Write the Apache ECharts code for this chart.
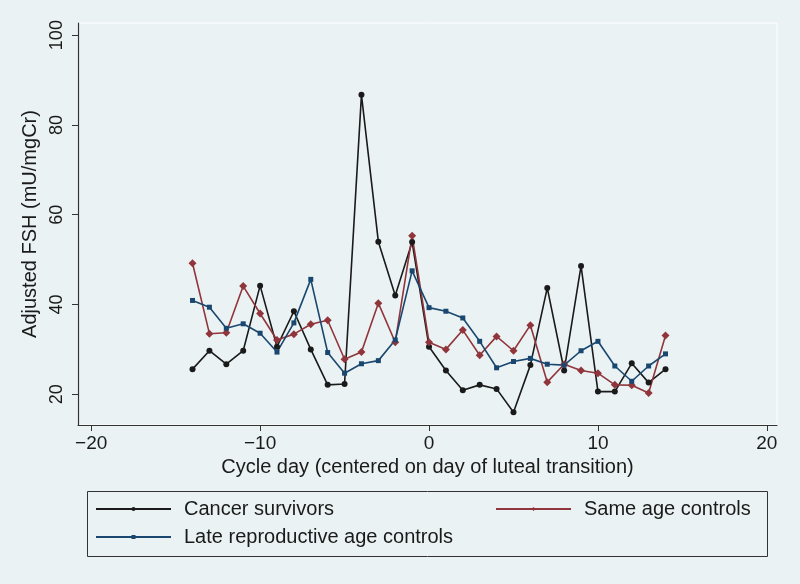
<!DOCTYPE html>
<html>
<head>
<meta charset="utf-8">
<script src="https://cdn.jsdelivr.net/npm/echarts@6/dist/echarts.min.js"></script>
<style>
html,body{margin:0;padding:0;background:#eaf2f3;}
#c{width:800px;height:584px;}
</style>
</head>
<body>
<div id="c"></div>
<script>
const days = [-14,-13,-12,-11,-10,-9,-8,-7,-6,-5,-4,-3,-2,-1,0,1,2,3,4,5,6,7,8,9,10,11,12,13,14];
const cancerSurvivors = [25.6,29.7,26.7,29.7,44.2,30.6,38.5,30.0,22.1,22.3,86.7,54.0,42.0,53.9,30.6,25.3,20.9,22.1,21.2,16.0,26.5,43.7,25.3,48.6,20.6,20.6,26.9,22.6,25.6];
const sameAgeControls = [49.2,33.5,33.7,44.1,38.0,32.1,33.4,35.6,36.5,27.8,29.4,40.3,31.6,55.3,31.6,30.0,34.3,28.7,32.9,29.7,35.4,22.7,26.7,25.3,24.7,22.1,22.0,20.3,33.1];
const lateReproControls = [40.9,39.4,34.7,35.7,33.6,29.4,35.9,45.6,29.3,24.7,26.8,27.5,32.1,47.5,39.3,38.5,37.0,31.8,25.9,27.3,28.0,26.7,26.5,29.7,31.8,26.3,22.9,26.3,29.0];
const xTicks = [-20,-10,0,10,20];
const yTicks = [20,40,60,80,100];
const names = ['Cancer survivors','Same age controls','Late reproductive age controls'];

const pair = (vals) => days.map((d,i)=>[d, vals[i]]);
const FONT = 'Liberation Sans';
const TXT = '#1a1a1a';

const chart = echarts.init(document.getElementById('c'), null, {renderer:'canvas'});
function legendAt(name, left, top){
  return {
    data:[name], left:left, top:top, orient:'horizontal', padding:0,
    itemWidth:75, itemHeight:5, selectedMode:false,
    textStyle:{fontFamily:FONT, fontSize:20, color:TXT, padding:[0,0,0,8]}
  };
}
chart.setOption({
  backgroundColor:'#eaf2f3',
  animation:false,
  grid:{left:78, right:23, top:23, bottom:159, show:true, borderColor:'#ffffff', borderWidth:1, backgroundColor:'transparent'},
  xAxis:{
    type:'value', min:-20.78, max:20.6,
    name:'Cycle day (centered on day of luteal transition)',
    nameLocation:'middle', nameGap:30,
    nameTextStyle:{fontFamily:FONT, fontSize:20, color:TXT},
    axisLine:{show:true, onZero:false, lineStyle:{color:'#333', width:1.2}},
    axisTick:{show:true, length:6, lineStyle:{color:'#333'}, customValues:xTicks},
    axisLabel:{fontFamily:FONT, fontSize:19, color:TXT, margin:9, customValues:xTicks,
      formatter:(v)=> v<0 ? '\u2212'+Math.abs(v) : String(v)},
    splitLine:{show:false}
  },
  yAxis:{
    type:'value', min:13.16, max:102.7,
    name:'Adjusted FSH (mU/mgCr)',
    nameLocation:'middle', nameGap:36,
    nameTextStyle:{fontFamily:FONT, fontSize:20, color:TXT},
    axisLine:{show:true, onZero:false, lineStyle:{color:'#333', width:1.2}},
    axisTick:{show:true, length:6, lineStyle:{color:'#333'}, customValues:yTicks},
    axisLabel:{fontFamily:FONT, fontSize:18, color:TXT, margin:12, rotate:90, customValues:yTicks},
    splitLine:{show:false}
  },
  legend:[
    legendAt(names[0], 95, 499),
    legendAt(names[1], 495, 499),
    legendAt(names[2], 95, 527)
  ],
  graphic:[{
    type:'rect', left:87, top:491, shape:{width:680, height:65},
    style:{fill:'transparent', stroke:'#333', lineWidth:1}, silent:true
  }],
  series:[
    {name:names[0], type:'line', data:pair(cancerSurvivors), symbol:'circle', symbolSize:6,
      itemStyle:{color:'#1a1a1a'}, lineStyle:{color:'#1a1a1a', width:1.6}},
    {name:names[1], type:'line', data:pair(sameAgeControls), symbol:'diamond', symbolSize:8,
      itemStyle:{color:'#90353b'}, lineStyle:{color:'#90353b', width:1.6}},
    {name:names[2], type:'line', data:pair(lateReproControls), symbol:'rect', symbolSize:5,
      itemStyle:{color:'#1a476f'}, lineStyle:{color:'#1a476f', width:1.6}}
  ]
});
</script>
</body>
</html>
